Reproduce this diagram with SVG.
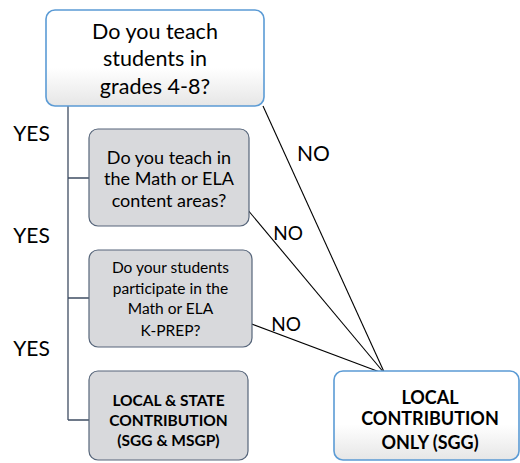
<svg xmlns="http://www.w3.org/2000/svg" width="520" height="463" viewBox="0 0 520 463">
  <defs>
    <linearGradient id="paleFill" x1="0" y1="0" x2="0" y2="1">
      <stop offset="0" stop-color="#ffffff"/>
      <stop offset="0.6" stop-color="#ffffff"/>
      <stop offset="1" stop-color="#e6e6e6"/>
    </linearGradient>
  </defs>
  <style>
    text { font-family: Lato, "Open Sans", "Liberation Sans", sans-serif; fill: #000; text-anchor: middle; }
    .blue { fill: url(#paleFill); stroke: #5b9bd5; stroke-width: 1.6; }
    .grey { fill: #d8d9dc; stroke: #56657a; stroke-width: 1.2; }
    .tree { fill: none; stroke: #3f4d63; stroke-width: 1.3; }
    .no { stroke: #000; stroke-width: 1.1; fill: none; }
    .q1 { font-size: 21.5px; }
    .q2 { font-size: 18px; }
    .q3 { font-size: 15.5px; }
    .res { font-size: 15.5px; font-weight: bold; }
    .res-l { font-size: 18px; font-weight: bold; }
    .lbl { font-size: 21px; }
    .lbl-s { font-size: 19px; }
  </style>

  <g id="connectors">
    <path class="tree" d="M68 106 V420 M68 178 H89 M68 298 H89 M68 420 H89"/>
    <line class="no" x1="263" y1="106" x2="385" y2="374"/>
    <line class="no" x1="247" y1="209" x2="385" y2="374"/>
    <line class="no" x1="249" y1="323" x2="385" y2="374"/>
    <text class="lbl" x="31.5" y="140.5">YES</text>
    <text class="lbl" x="31.5" y="242.5">YES</text>
    <text class="lbl" x="31.5" y="355.5">YES</text>
    <text class="lbl" x="313.5" y="160.5">NO</text>
    <text class="lbl-s" x="288" y="240">NO</text>
    <text class="lbl-s" x="286" y="331">NO</text>
  </g>

  <g id="q-grades">
    <rect class="blue" x="46" y="10" width="218" height="96" rx="9"/>
    <text class="q1" x="155" y="38.5">Do you teach</text>
    <text class="q1" x="155" y="65.5">students in</text>
    <text class="q1" x="155" y="93.5">grades 4-8?</text>
  </g>

  <g id="q-subject">
    <rect class="grey" x="89" y="129" width="160" height="97" rx="9"/>
    <text class="q2" x="169" y="163.5">Do you teach in</text>
    <text class="q2" x="169" y="184.5">the Math or ELA</text>
    <text class="q2" x="169" y="206.5">content areas?</text>
  </g>

  <g id="q-kprep">
    <rect class="grey" x="89" y="250" width="163" height="97" rx="9"/>
    <text class="q3" x="170.5" y="273">Do your students</text>
    <text class="q3" x="170.5" y="293.5">participate in the</text>
    <text class="q3" x="170.5" y="313.5">Math or ELA</text>
    <text class="q3" x="170.5" y="335.5">K-PREP?</text>
  </g>

  <g id="r-local-state">
    <rect class="grey" x="89" y="371" width="159" height="89" rx="9"/>
    <text class="res" x="168.5" y="405.5">LOCAL &amp; STATE</text>
    <text class="res" x="168.5" y="425.5">CONTRIBUTION</text>
    <text class="res" x="168.5" y="445.5">(SGG &amp; MSGP)</text>
  </g>

  <g id="r-local-only">
    <rect class="blue" x="334" y="371" width="185" height="89" rx="9"/>
    <text class="res-l" x="430" y="403.5">LOCAL</text>
    <text class="res-l" x="430" y="425">CONTRIBUTION</text>
    <text class="res-l" x="430" y="448.5">ONLY (SGG)</text>
  </g>
</svg>
